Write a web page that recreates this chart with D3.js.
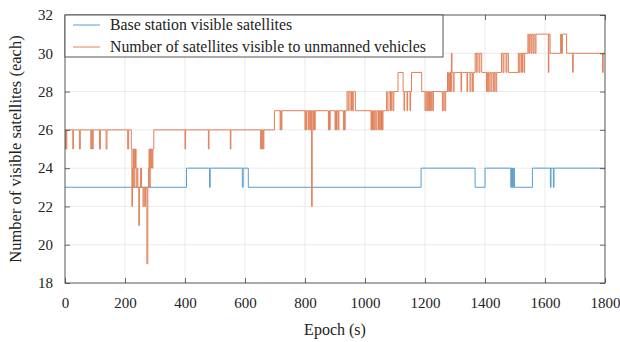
<!DOCTYPE html>
<html>
<head>
<meta charset="utf-8">
<script src="https://cdn.jsdelivr.net/npm/d3@7"></script>
<style>
  html, body { margin: 0; padding: 0; background: #fff; }
  svg { display: block; }
  text { font-family: "Liberation Serif", "DejaVu Serif", serif; fill: #222; }
</style>
</head>
<body>
<svg id="chart" width="620" height="342"></svg>
<script>
// Visible satellite counts, stored as change points: [epoch (s), count from that epoch on]
const seriesNames = ["Base station visible satellites", "Number of satellites visible to unmanned vehicles"];

const baseStation = [
  [0,23],[405,24],[482,23],[484,24],[591,23],[594,24],[611,23],[1187,24],
  [1367,23],[1400,24],[1486,23],[1488,24],[1490,23],[1492,24],[1494,23],[1496,24],[1498,23],
  [1558,24],[1618,23],[1620,24],[1628,23],[1630,24],[1800,24]
];

const unmannedVehicle = [
  [0,25],[2,26],[4,25],[6,26],[26,25],[28,26],[48,25],[51,26],
  [86,25],[88,26],[92,25],[94,26],[115,25],[118,26],[137,25],[140,26],
  [209,25],[212,26],[221,25],[223,22],[225,24],[227,25],[229,23],[231,25],[233,24],[235,25],
  [237,23],[240,24],[243,23],[246,21],[248,23],[252,24],[255,23],[260,22],[263,23],[266,22],
  [268,23],[273,19],[276,23],[278,24],[280,25],[282,23],[284,25],[286,24],[288,25],[291,24],
  [293,25],[296,26],
  [400,25],[402,26],[478,25],[480,26],[551,25],[553,26],
  [652,25],[654,26],[656,25],[658,26],[661,25],[663,26],
  [698,27],[717,26],[719,27],[721,26],[723,27],
  [800,26],[802,27],[804,26],[806,27],[811,26],[813,27],[816,26],[818,27],[822,22],[824,27],
  [828,26],[830,27],[832,26],[834,27],[878,26],[880,27],[882,26],[884,27],
  [900,26],[902,27],[905,26],[907,27],[911,26],[913,27],[928,26],[930,27],[932,26],[934,27],
  [940,28],[944,27],[947,28],[953,27],[955,28],[958,27],[961,28],[968,27],
  [1020,26],[1022,27],[1025,26],[1028,27],[1031,26],[1034,27],[1037,26],[1040,27],
  [1045,26],[1048,27],[1052,26],[1055,27],[1058,26],[1060,27],
  [1072,28],[1074,27],[1080,28],[1085,27],[1088,28],[1093,27],[1096,28],
  [1110,29],[1127,28],[1130,27],[1132,28],[1140,27],[1142,28],[1150,27],[1152,28],
  [1155,29],[1189,28],[1200,27],[1203,28],[1206,27],[1209,28],[1212,27],[1215,28],
  [1218,27],[1222,28],[1226,27],[1228,28],[1258,27],[1261,28],[1266,27],[1269,28],
  [1275,29],[1278,28],[1282,29],[1285,28],[1288,30],[1290,29],[1294,28],[1297,29],
  [1320,28],[1322,29],[1340,28],[1342,29],[1350,28],[1353,29],[1358,28],[1361,29],
  [1367,30],[1371,29],[1374,30],[1380,29],[1383,30],[1389,29],
  [1405,28],[1408,29],[1412,28],[1416,29],[1420,28],[1423,29],[1428,28],[1431,29],
  [1436,28],[1439,29],[1455,30],[1460,29],[1463,30],[1470,29],[1473,30],[1478,29],
  [1511,30],[1514,29],[1517,30],[1522,29],[1525,30],[1530,29],[1532,30],
  [1543,31],[1546,30],[1549,31],[1553,30],[1556,31],[1560,30],[1563,31],[1567,30],[1570,31],
  [1611,29],[1613,31],[1617,30],[1652,31],[1655,30],[1658,31],[1672,30],
  [1692,29],[1694,30],[1792,29],[1794,30],[1800,30]
];

const xTicks = [0, 200, 400, 600, 800, 1000, 1200, 1400, 1600, 1800];
const yTicks = [18, 20, 22, 24, 26, 28, 30, 32];
const seriesColors = ["#5a9fcb", "#e0815a"];

const svg = d3.select("#chart");
const margin = { left: 65, right: 15, top: 15, bottom: 59 };
const W = 620, H = 342;
const x = d3.scaleLinear().domain([0, 1800]).range([margin.left, W - margin.right]);
const y = d3.scaleLinear().domain([18, 32]).range([H - margin.bottom, margin.top]);
const [x0, x1] = x.range();
const [y0, y1] = y.range();

// grid
const grid = svg.append("g").attr("stroke", "#e6e6e6").attr("stroke-width", 0.8);
grid.selectAll(".gx").data(xTicks.slice(1, -1)).join("line")
  .attr("x1", d => x(d)).attr("x2", d => x(d)).attr("y1", y0).attr("y2", y1);
grid.selectAll(".gy").data(yTicks.slice(1, -1)).join("line")
  .attr("x1", x0).attr("x2", x1).attr("y1", d => y(d)).attr("y2", d => y(d));

// series
const line = d3.line().x(d => x(d[0])).y(d => y(d[1])).curve(d3.curveStepAfter);
[baseStation, unmannedVehicle].forEach((s, i) => {
  svg.append("path").datum(s)
    .attr("fill", "none").attr("stroke", seriesColors[i])
    .attr("stroke-width", 1).attr("d", line);
});

// axes: ticks point inward on all four sides
const tickLen = 5;
const fmt = d3.format("d");
const axStyle = g => g.call(a => a.select(".domain").remove())
  .call(a => a.selectAll(".tick line").attr("stroke", "#444").attr("stroke-width", 0.8))
  .call(a => a.selectAll("text").attr("font-size", 15).attr("fill", "#222")
    .style("font-family", '"Liberation Serif", serif'));

svg.append("g").attr("transform", `translate(0,${y0})`)
  .call(d3.axisBottom(x).tickValues(xTicks).tickFormat(fmt).tickSizeInner(-tickLen).tickSizeOuter(0).tickPadding(14))
  .call(axStyle);
svg.append("g").attr("transform", `translate(${x0},0)`)
  .call(d3.axisLeft(y).tickValues(yTicks).tickFormat(fmt).tickSizeInner(-tickLen).tickSizeOuter(0).tickPadding(12))
  .call(axStyle);
svg.append("g").attr("transform", `translate(0,${y1})`)
  .call(d3.axisTop(x).tickValues(xTicks).tickSizeInner(-tickLen).tickSizeOuter(0).tickFormat(""))
  .call(axStyle);
svg.append("g").attr("transform", `translate(${x1},0)`)
  .call(d3.axisRight(y).tickValues(yTicks).tickSizeInner(-tickLen).tickSizeOuter(0).tickFormat(""))
  .call(axStyle);

// frame
svg.append("rect").attr("x", x0).attr("y", y1).attr("width", x1 - x0).attr("height", y0 - y1)
  .attr("fill", "none").attr("stroke", "#444").attr("stroke-width", 0.9);

// axis titles
svg.append("text").attr("x", (x0 + x1) / 2).attr("y", 335)
  .attr("text-anchor", "middle").attr("font-size", 16).text("Epoch (s)");
svg.append("text").attr("transform", `translate(21,${(y0 + y1) / 2}) rotate(-90)`)
  .attr("text-anchor", "middle").attr("font-size", 16.5).text("Number of visible satellites (each)");

// legend
const lg = svg.append("g");
lg.append("rect").attr("x", x0).attr("y", y1).attr("width", 378).attr("height", 42)
  .attr("fill", "#fff").attr("stroke", "#444").attr("stroke-width", 0.9);
seriesNames.forEach((name, i) => {
  const ly = y1 + 10 + i * 22;
  lg.append("line").attr("x1", x0 + 8).attr("x2", x0 + 35).attr("y1", ly).attr("y2", ly)
    .attr("stroke", seriesColors[i]).attr("stroke-width", 1);
  lg.append("text").attr("x", x0 + 45).attr("y", ly + 5).attr("font-size", 15.8).text(name);
});
</script>
</body>
</html>
